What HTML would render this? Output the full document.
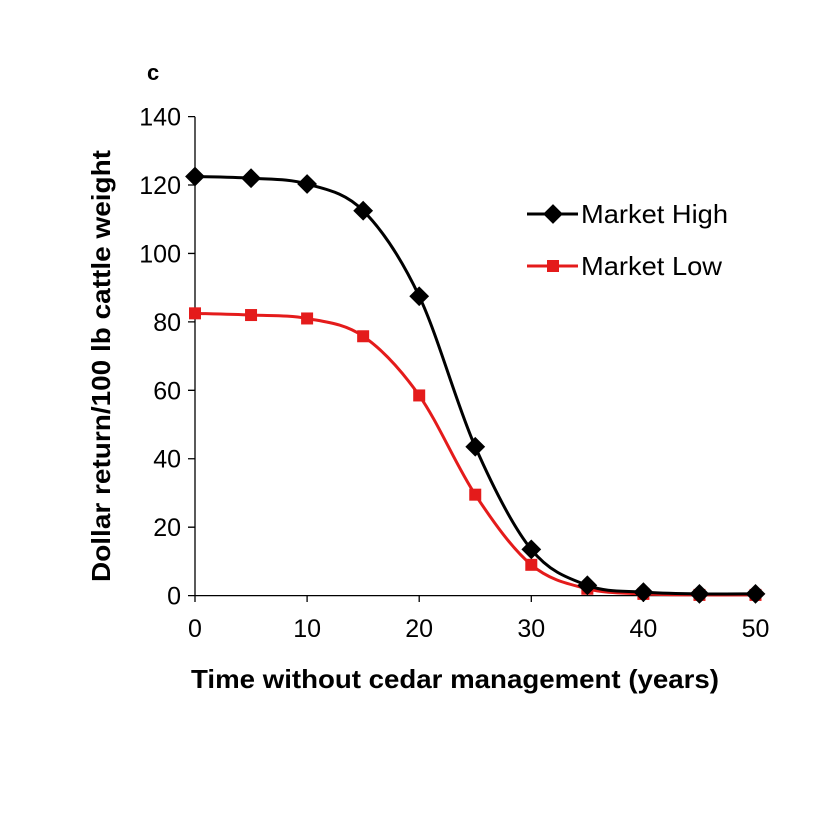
<!DOCTYPE html>
<html><head><style>
html,body{margin:0;padding:0;background:#fff;}
svg text{font-family:"Liberation Sans",Arial,sans-serif;}
</style></head><body>
<svg id="s" width="834" height="834" viewBox="0 0 834 834" xmlns="http://www.w3.org/2000/svg">
<rect width="834" height="834" fill="#fff"/>
<text x="147" y="80" font-size="22" font-weight="bold">c</text>
<g stroke="#000" stroke-width="1.3" fill="none" id="axes"></g>
<g id="lbl" font-size="25" fill="#000"></g>
<text x="455" y="688" font-size="26" font-weight="bold" text-anchor="middle" textLength="528" lengthAdjust="spacingAndGlyphs">Time without cedar management (years)</text>
<text transform="translate(110,366) rotate(-90)" font-size="26" font-weight="bold" text-anchor="middle" textLength="432" lengthAdjust="spacingAndGlyphs">Dollar return/100 lb cattle weight</text>
<g id="series"></g>
<line x1="527" y1="214" x2="578" y2="214" stroke="#000" stroke-width="3"/>
<rect x="546" y="207" width="14" height="14" fill="#000" transform="rotate(45 553 214)"/>
<text x="581" y="223" font-size="26" textLength="147" lengthAdjust="spacingAndGlyphs">Market High</text>
<line x1="527" y1="266" x2="578" y2="266" stroke="#e41b1b" stroke-width="3"/>
<rect x="547" y="260" width="12" height="12" fill="#e41b1b"/>
<text x="581" y="275" font-size="26" textLength="141" lengthAdjust="spacingAndGlyphs">Market Low</text>
</svg>
<script>
const NS="http://www.w3.org/2000/svg";
const X=v=>195+v*11.21, Y=v=>595.6-v*3.4214;
function el(t,a,p){const e=document.createElementNS(NS,t);for(const k in a)e.setAttribute(k,a[k]);document.getElementById(p).appendChild(e);return e;}
let d=`M195 116.7 V595.6 H755.5`;
for(let v=0;v<=140;v+=20){d+=` M188 ${Y(v)} H195`;const t=el('text',{x:181,y:Y(v)+9,'text-anchor':'end'},'lbl');t.textContent=v;}
for(let v=0;v<=50;v+=10){d+=` M${X(v)} 595.6 V602`;const t=el('text',{x:X(v),y:637,'text-anchor':'middle'},'lbl');t.textContent=v;}
el('path',{d:d},'axes');
const xs=[0,5,10,15,20,25,30,35,40,45,50];
const hi=[122.5,122,120.3,112.5,87.5,43.5,13.5,3,1,0.5,0.5];
const lo=[82.5,82,81,75.8,58.5,29.5,9,2,0.5,0.2,0.2];
function path(ys){const p=xs.map((x,i)=>[X(x),Y(ys[i])]);let s=`M${p[0][0]} ${p[0][1]}`;
for(let i=0;i<p.length-1;i++){const a=p[Math.max(0,i-1)],b=p[i],c=p[i+1],e=p[Math.min(p.length-1,i+2)];
s+=` C${b[0]+(c[0]-a[0])/6} ${b[1]+(c[1]-a[1])/6} ${c[0]-(e[0]-b[0])/6} ${c[1]-(e[1]-b[1])/6} ${c[0]} ${c[1]}`;}return s;}
el('path',{d:path(lo),stroke:'#e41b1b','stroke-width':3,fill:'none'},'series');
el('path',{d:path(hi),stroke:'#000','stroke-width':3,fill:'none'},'series');
xs.forEach((x,i)=>{el('rect',{x:X(x)-6,y:Y(lo[i])-6,width:12,height:12,fill:'#e41b1b'},'series');});
xs.forEach((x,i)=>{el('rect',{x:X(x)-7,y:Y(hi[i])-7,width:14,height:14,fill:'#000',transform:`rotate(45 ${X(x)} ${Y(hi[i])})`},'series');});
</script>
</body></html>
